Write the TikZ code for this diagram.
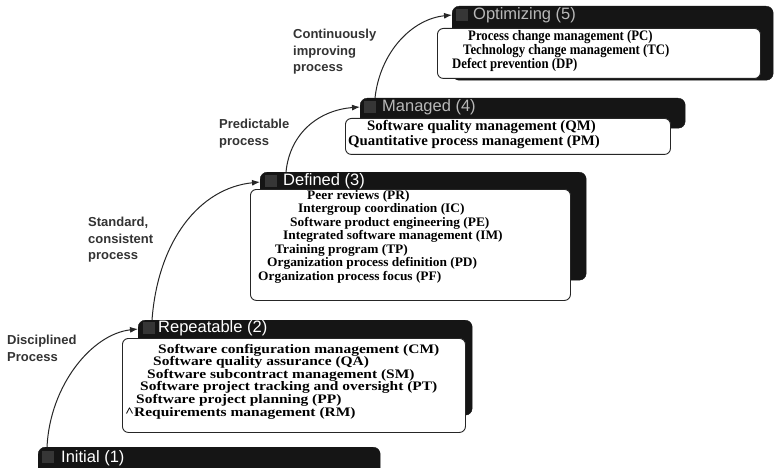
\documentclass[tikz,border=0pt]{standalone}
\usepackage{fontspec}
\usepackage{graphicx}
\usetikzlibrary{arrows.meta,calc}
\newfontfamily\labfont{Liberation Sans}
\newfontfamily\itemfont{Liberation Serif}
\definecolor{barcol}{HTML}{151515}
\definecolor{sqcol}{HTML}{363636}
\definecolor{labcol}{HTML}{333333}
\definecolor{conncol}{HTML}{262626}
\newcommand{\sx}[2]{\scalebox{#1}[1]{#2}}
\tikzset{
 darkbar/.style={fill=barcol, draw=barcol, rounded corners=7pt, inner sep=0pt, anchor=north west},
 whitebox/.style={fill=white, draw=black!85, line width=0.9pt, rounded corners=6pt, inner sep=0pt, anchor=north west},
 titletext/.style={font=\labfont\fontsize{16.5}{18}\selectfont, text=white, anchor=west, inner sep=0pt},
 dimtitle/.style={titletext, text=black!28},
 itm/.style={font=\itemfont\bfseries\fontsize{14.5}{15}\selectfont, anchor=west, inner sep=0pt},
 itmsmall/.style={itm, font=\itemfont\bfseries\fontsize{13}{14}\selectfont},
 lab/.style={font=\labfont\bfseries\fontsize{13}{16.5}\selectfont, text=labcol, align=left, anchor=north west, inner sep=0pt},
 conn/.style={draw=conncol, line width=1pt, -{Latex[length=8pt,width=6pt]}},
}
\begin{document}
\begin{tikzpicture}[x=1pt,y=-1pt]
\useasboundingbox (0,0) rectangle (779,468);
\fill[white] (0,0) rectangle (779,468);

% ---- Optimizing (5)
\node[darkbar, minimum width=321pt, minimum height=74pt] (optbar) at (452,6) {};
\fill[sqcol] (456,9) rectangle (468,21);
\node[dimtitle] (optt) at (473,15) {Optimizing (5)};
\node[whitebox, minimum width=323pt, minimum height=50pt] (optbox) at (437,28) {};
\node[itm] (o1) at (468,37) {\sx{0.88}{Process change management (PC)}};
\node[itm] (o2) at (463,51) {\sx{0.88}{Technology change management (TC)}};
\node[itm] (o3) at (452,65) {\sx{0.88}{Defect prevention (DP)}};

% ---- Managed (4)
\node[darkbar, minimum width=325pt, minimum height=30pt] (manbar) at (360,98) {};
\fill[sqcol] (364,101) rectangle (376,113);
\node[dimtitle] (mant) at (382,107) {Managed (4)};
\node[whitebox, minimum width=325pt, minimum height=36pt] (manbox) at (345,118) {};
\node[itm] (m1) at (367,127) {\sx{1.02}{Software quality management (QM)}};
\node[itm] (m2) at (348,142) {\sx{1.02}{Quantitative process management (PM)}};

% ---- Defined (3)
\node[darkbar, minimum width=326pt, minimum height=108pt] (defbar) at (260,172) {};
\fill[sqcol] (265,175) rectangle (277,187);
\node[titletext] (deft) at (283,181) {Defined (3)};
\node[whitebox, minimum width=320pt, minimum height=111pt] (defbox) at (250,189) {};
\node[itmsmall] (d1) at (307,196) {\sx{1.03}{Peer reviews (PR)}};
\node[itmsmall] (d2) at (298,209.5) {\sx{1.03}{Intergroup coordination (IC)}};
\node[itmsmall] (d3) at (290,223) {\sx{1.03}{Software product engineering (PE)}};
\node[itmsmall] (d4) at (283,236.5) {\sx{1.03}{Integrated software management (IM)}};
\node[itmsmall] (d5) at (275,250) {\sx{1.03}{Training program (TP)}};
\node[itmsmall] (d6) at (267,263.5) {\sx{1.03}{Organization process definition (PD)}};
\node[itmsmall] (d7) at (258,277) {\sx{1.03}{Organization process focus (PF)}};

% ---- Repeatable (2)
\node[darkbar, minimum width=334pt, minimum height=95pt] (repbar) at (138,320) {};
\fill[sqcol] (143,322) rectangle (155,334);
\node[titletext] (rept) at (158,328) {Repeatable (2)};
\node[whitebox, minimum width=343pt, minimum height=94pt] (repbox) at (122,338) {};
\node[itmsmall] (r1) at (158,350) {\sx{1.19}{Software configuration management (CM)}};
\node[itmsmall] (r2) at (153,362.6) {\sx{1.19}{Software quality assurance (QA)}};
\node[itmsmall] (r3) at (147,375.2) {\sx{1.19}{Software subcontract management (SM)}};
\node[itmsmall] (r4) at (140,387.8) {\sx{1.19}{Software project tracking and oversight (PT)}};
\node[itmsmall] (r5) at (136,400.4) {\sx{1.19}{Software project planning (PP)}};
\node[itmsmall] (r6) at (125,413) {\sx{1.19}{\textasciicircum Requirements management (RM)}};

% ---- Initial (1)
\node[darkbar, minimum width=342pt, minimum height=28pt] (inibar) at (38,447) {};
\fill[sqcol] (42,451) rectangle (54,463);
\node[titletext] (init) at (61,458) {Initial (1)};

% ---- labels
\node[lab] (l1) at (7,335) {Disciplined\\Process};
\node[lab] (l2) at (88,217) {Standard,\\consistent\\process};
\node[lab] (l3) at (219,119) {Predictable\\process};
\node[lab] (l4) at (293,29) {Continuously\\improving\\process};

% ---- connectors
\draw[conn] ($(inibar.north west)+(9,0)$) .. controls (50,385) and (92,334) .. ($(repbar.north west)+(0,9)$);
\draw[conn] ($(repbar.north west)+(14,0)$) .. controls (158,240) and (200,188) .. ($(defbar.north west)+(0,10)$);
\draw[conn] ($(defbar.north west)+(26,0)$) .. controls (290,132) and (320,110) .. ($(manbar.north west)+(0,9)$);
\draw[conn] ($(manbar.north west)+(15,0)$) .. controls (380,52) and (412,19) .. ($(optbar.north west)+(0,9)$);
\end{tikzpicture}
\end{document}
